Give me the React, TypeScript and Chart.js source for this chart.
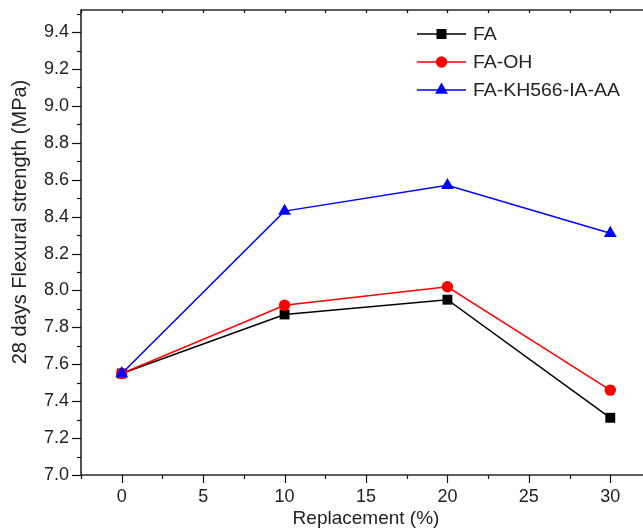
import React, { useEffect, useRef } from "react";
import { Chart, registerables } from "chart.js";

Chart.register(...registerables);

const replacement = [0, 10, 20, 30];
const faValues = [7.55, 7.87, 7.95, 7.31];
const faOhValues = [7.55, 7.92, 8.02, 7.46];
const faKhValues = [7.55, 8.43, 8.57, 8.31];
const seriesNames = ["FA", "FA-OH", "FA-KH566-IA-AA"];
const seriesColors = ["#000000", "#ff0000", "#0000ff"];
const seriesMarkers = ["rect", "circle", "triangle"];
const xTickValues = [0, 5, 10, 15, 20, 25, 30];
const yTickValues = [7.0, 7.2, 7.4, 7.6, 7.8, 8.0, 8.2, 8.4, 8.6, 8.8, 9.0, 9.2, 9.4];
const xTitle = "Replacement (%)";
const yTitle = "28 days Flexural strength (MPa)";

const FONT = "'Liberation Sans', Arial, Helvetica, sans-serif";
const AXIS_COLOR = "#2a2a2a";
const TEXT_COLOR = "#222222";

function drawMarker(ctx: CanvasRenderingContext2D, style: string, x: number, y: number, color: string) {
  ctx.save();
  ctx.fillStyle = color;
  ctx.beginPath();
  if (style === "rect") {
    ctx.rect(x - 5, y - 5, 10, 10);
  } else if (style === "circle") {
    ctx.arc(x, y, 5.7, 0, Math.PI * 2);
  } else {
    const r = 7.4;
    ctx.moveTo(x, y - r);
    ctx.lineTo(x + r * Math.sin((2 * Math.PI) / 3), y - r * Math.cos((2 * Math.PI) / 3));
    ctx.lineTo(x + r * Math.sin((4 * Math.PI) / 3), y - r * Math.cos((4 * Math.PI) / 3));
    ctx.closePath();
  }
  ctx.fill();
  ctx.restore();
}

const framePlugin = {
  id: "frame",
  afterDraw(chart: any) {
    const { ctx, chartArea } = chart;
    const { left, right, top, bottom } = chartArea;
    const xs = chart.scales.x;
    const ys = chart.scales.y;
    ctx.save();
    ctx.strokeStyle = AXIS_COLOR;
    ctx.lineWidth = 1.6;
    ctx.beginPath();
    ctx.moveTo(left, top);
    ctx.lineTo(right, top);
    ctx.lineTo(right, bottom);
    ctx.lineTo(left, bottom);
    ctx.closePath();
    ctx.stroke();

    ctx.lineWidth = 1.2;
    ctx.strokeStyle = "#111111";
    for (let v = xs.min; v <= xs.max + 1e-6; v += 2.5) {
      const px = Math.round(xs.getPixelForValue(v)) + 0.5;
      const major = Math.abs(v % 5) < 1e-6;
      ctx.beginPath();
      ctx.moveTo(px, bottom);
      ctx.lineTo(px, bottom + (major ? 8 : 4));
      ctx.stroke();
      ctx.beginPath();
      ctx.moveTo(px, top);
      ctx.lineTo(px, top + 3);
      ctx.stroke();
    }
    for (let i = 0; i <= 25; i++) {
      const v = 7.0 + i * 0.1;
      if (v > ys.max + 1e-6) break;
      const py = Math.round(ys.getPixelForValue(v)) + 0.5;
      const major = i % 2 === 0;
      ctx.beginPath();
      ctx.moveTo(left, py);
      ctx.lineTo(left - (major ? 9 : 4), py);
      ctx.stroke();
    }

    ctx.fillStyle = TEXT_COLOR;
    ctx.font = `20px ${FONT}`;
    ctx.textAlign = "center";
    ctx.textBaseline = "middle";
    ctx.translate(20, 222);
    ctx.rotate(-Math.PI / 2);
    ctx.fillText(yTitle, 0, 0);
    ctx.restore();

    ctx.save();
    ctx.font = `18px ${FONT}`;
    ctx.textBaseline = "middle";
    ctx.textAlign = "left";
    chart.data.datasets.forEach((ds: any, i: number) => {
      const y = 34 + 28 * i;
      ctx.strokeStyle = ds.borderColor;
      ctx.lineWidth = 1.5;
      ctx.beginPath();
      ctx.moveTo(417, y);
      ctx.lineTo(466, y);
      ctx.stroke();
      drawMarker(ctx, seriesMarkers[i], 441.5, y, ds.borderColor);
      ctx.save();
      ctx.fillStyle = TEXT_COLOR;
      ctx.translate(473, y + 1);
      ctx.scale(1.08, 1);
      ctx.fillText(ds.label, 0, 0);
      ctx.restore();
    });
    ctx.restore();
  },
};

export default function App() {
  const canvasRef = useRef<HTMLCanvasElement | null>(null);

  useEffect(() => {
    const canvas = canvasRef.current;
    if (!canvas) return;
    const valueSets = [faValues, faOhValues, faKhValues];
    const radii = [7, 5.7, 7.4];
    const chart = new Chart(canvas, {
      type: "line",
      data: {
        datasets: valueSets.map((vals, i) => ({
          label: seriesNames[i],
          data: replacement.map((x, j) => ({ x, y: vals[j] })),
          borderColor: seriesColors[i],
          backgroundColor: seriesColors[i],
          pointBackgroundColor: seriesColors[i],
          pointBorderColor: seriesColors[i],
          pointBorderWidth: 0,
          pointStyle: seriesMarkers[i] as any,
          pointRadius: radii[i],
          borderWidth: 1.5,
          tension: 0,
          fill: false,
          order: 3 - i,
        })),
      },
      options: {
        animation: false,
        responsive: false,
        layout: { padding: { top: 10, right: 9, left: 0, bottom: 0 } },
        plugins: {
          legend: { display: false },
          tooltip: { enabled: false },
        },
        scales: {
          x: {
            type: "linear",
            position: "bottom",
            min: -2.5,
            max: 32.5,
            afterBuildTicks: (s: any) => {
              s.ticks = xTickValues.map((v) => ({ value: v }));
            },
            afterFit: (s: any) => {
              s.height = 56;
              s.paddingLeft = 0;
              s.paddingRight = 0;
            },
            grid: { display: false, drawTicks: false },
            border: { display: false },
            ticks: {
              padding: 11,
              color: TEXT_COLOR,
              font: { family: FONT, size: 18 },
              maxRotation: 0,
              autoSkip: false,
              callback: (v: any) => String(v),
            },
            title: {
              display: true,
              text: xTitle,
              color: TEXT_COLOR,
              font: { family: FONT, size: 19 },
              padding: { top: 0, bottom: 1 },
            },
          },
          y: {
            type: "linear",
            min: 7.0,
            max: 9.52,
            afterBuildTicks: (s: any) => {
              s.ticks = yTickValues.map((v) => ({ value: v }));
            },
            afterFit: (s: any) => {
              s.width = 81;
              s.paddingTop = 0;
              s.paddingBottom = 0;
            },
            grid: { display: false, drawTicks: false },
            border: { display: false },
            ticks: {
              padding: 12,
              color: TEXT_COLOR,
              font: { family: FONT, size: 18 },
              autoSkip: false,
              callback: (v: any) => Number(v).toFixed(1),
            },
          },
        },
      },
      plugins: [framePlugin],
    });
    return () => chart.destroy();
  }, []);

  return (
    <div style={{ position: "fixed", left: 0, top: 0, width: 643, height: 531, overflow: "hidden", background: "#fff" }}>
      <canvas ref={canvasRef} width={660} height={531} style={{ display: "block", width: 660, height: 531 }} />
    </div>
  );
}
